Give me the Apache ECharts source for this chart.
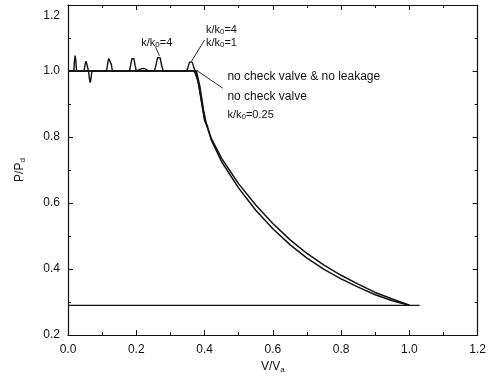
<!DOCTYPE html>
<html>
<head>
<meta charset="utf-8">
<script src="https://cdn.jsdelivr.net/npm/echarts@6/dist/echarts.min.js"></script>
<style>html,body{margin:0;padding:0;background:#fff}#c{width:489px;height:383px}</style>
</head>
<body>
<div id="c"></div>
<script>
// ---- data ----
var xTicks = [0, 0.2, 0.4, 0.6, 0.8, 1.0, 1.2];
var yTicks = [0.2, 0.4, 0.6, 0.8, 1.0, 1.2];

var baseLine = [[0, 0.29], [1.03, 0.29]];

var noCheckNoLeak = [[0, 1.0], [0.372, 1.0], [0.383, 0.96], [0.395, 0.885], [0.402, 0.848],
  [0.42, 0.795], [0.45, 0.735], [0.5, 0.658], [0.55, 0.594], [0.6, 0.538], [0.65, 0.489],
  [0.7, 0.447], [0.75, 0.412], [0.8, 0.381], [0.85, 0.354], [0.9, 0.329], [0.95, 0.309], [1.0, 0.29]];

var noCheck = [[0, 1.0], [0.376, 1.0], [0.386, 0.955], [0.398, 0.875], [0.405, 0.842],
  [0.42, 0.79], [0.45, 0.725], [0.5, 0.645], [0.55, 0.578], [0.6, 0.522], [0.65, 0.474],
  [0.7, 0.433], [0.75, 0.399], [0.8, 0.370], [0.85, 0.345], [0.9, 0.322], [0.95, 0.304], [1.0, 0.29]];

var k025 = [[0.37, 1.0], [0.38, 0.975], [0.392, 0.9], [0.4, 0.85], [0.41, 0.83]];

var k4 = [[0, 1.0], [0.017, 1.0], [0.019, 1.03], [0.021, 1.047], [0.023, 1.03], [0.025, 1.0],
  [0.047, 1.0], [0.05, 1.02], [0.053, 1.03], [0.057, 1.027], [0.06, 1.0], [0.063, 0.975],
  [0.065, 0.965], [0.067, 0.975], [0.07, 1.0],
  [0.113, 1.0], [0.116, 1.02], [0.119, 1.038], [0.121, 1.041], [0.124, 1.038], [0.127, 1.02], [0.13, 1.0],
  [0.18, 1.0], [0.184, 1.02], [0.187, 1.037], [0.19, 1.041], [0.193, 1.037], [0.196, 1.02], [0.2, 1.0],
  [0.253, 1.0], [0.258, 1.018], [0.262, 1.04], [0.266, 1.046], [0.27, 1.04], [0.274, 1.018], [0.279, 1.0],
  [0.348, 1.0], [0.352, 1.013], [0.356, 1.027], [0.36, 1.031], [0.364, 1.027], [0.368, 1.013], [0.372, 1.0],
  [0.38, 1.0]];

var k1 = [[0.2, 1.0], [0.21, 1.005], [0.22, 1.008], [0.228, 1.006], [0.236, 1.0]];

// leader lines (data coordinates)
var leaderK4 = [[0.256, 1.074], [0.268, 1.046]];
var leaderK41 = [[0.40, 1.094], [0.361, 1.028]];
var leaderNCV = [[0.453, 0.948], [0.381, 0.999]];

var chart = echarts.init(document.getElementById('c'), null, {renderer: 'canvas'});
var FONT = '"Liberation Sans", Arial, Helvetica, sans-serif';
var black = '#111';

function lineSeries(data, w) {
  return {type: 'line', data: data, showSymbol: false, symbol: 'none', silent: true,
    lineStyle: {color: black, width: w}, animation: false, z: 3};
}

var axisCommon = {
  min: 0, max: 1.2, interval: 0.2,
  axisLine: {show: true, onZero: false, lineStyle: {color: black, width: 1.2}},
  axisTick: {show: true, inside: true, length: 5, lineStyle: {color: black, width: 1}},
  minorTick: {show: true, splitNumber: 2, length: 3, lineStyle: {color: black, width: 1}},
  splitLine: {show: false}
};

var option = {
  backgroundColor: '#fff',
  animation: false,
  grid: {left: 68, right: 5, top: 5, bottom: 48},
  xAxis: [
    Object.assign({}, axisCommon, {
      type: 'value', position: 'bottom',
      axisLabel: {color: black, fontFamily: FONT, fontSize: 12, margin: 9,
        formatter: function (v) { return v.toFixed(1); }},
      name: '{a|V/V}{s|a}', nameLocation: 'middle', nameGap: 25,
      nameTextStyle: {rich: {
        a: {fontFamily: FONT, fontSize: 12, color: black},
        s: {fontFamily: FONT, fontSize: 8, color: black, verticalAlign: 'bottom', padding: [6, 0, 0, 0]}
      }}
    }),
    Object.assign({}, axisCommon, {
      type: 'value', position: 'top', axisLabel: {show: false}
    })
  ],
  yAxis: [
    Object.assign({}, axisCommon, {
      type: 'value', position: 'left', min: 0.2, max: 1.2, interval: 0.2,
      axisLabel: {color: black, fontFamily: FONT, fontSize: 12, margin: 8,
        formatter: function (v) {
          var s = v.toFixed(1);
          return Math.abs(v - 1.2) < 1e-6 ? '{t|' + s + '}' : s;
        },
        rich: {t: {fontFamily: FONT, fontSize: 12, color: black, padding: [22, 0, 0, 0]}}
      },
      name: '{a|P/P}{s|d}', nameLocation: 'middle', nameGap: 41, nameRotate: 90,
      nameTextStyle: {rich: {
        a: {fontFamily: FONT, fontSize: 12, color: black},
        s: {fontFamily: FONT, fontSize: 8, color: black, verticalAlign: 'bottom', padding: [6, 0, 0, 0]}
      }}
    }),
    Object.assign({}, axisCommon, {
      type: 'value', position: 'right', min: 0.2, max: 1.2, interval: 0.2,
      axisLabel: {show: false}
    })
  ],
  series: [
    lineSeries(baseLine, 1.3),
    lineSeries(noCheckNoLeak, 1.5),
    lineSeries(noCheck, 1.5),
    lineSeries(k025, 1.5),
    lineSeries(k4, 1.4),
    lineSeries(k1, 1.2),
    lineSeries(leaderK4, 0.9),
    lineSeries(leaderK41, 0.9),
    lineSeries(leaderNCV, 0.9)
  ]
};
chart.setOption(option);

// annotations placed at data coordinates
var notes = [
  {x: 0.26, y: 1.085, size: 11, align: 'center', parts: [['k/k', 0], ['0', 1], ['=4', 0]]},
  {x: 0.404, y: 1.124, size: 11, align: 'left', parts: [['k/k', 0], ['0', 1], ['=4', 0]]},
  {x: 0.404, y: 1.085, size: 11, align: 'left', parts: [['k/k', 0], ['0', 1], ['=1', 0]]},
  {x: 0.467, y: 0.982, size: 12, align: 'left', parts: [['no check valve & no leakage', 0]]},
  {x: 0.467, y: 0.921, size: 12, align: 'left', parts: [['no check valve', 0]]},
  {x: 0.467, y: 0.866, size: 11, align: 'left', parts: [['k/k', 0], ['0', 1], ['=0.25', 0]]}
];
var graphics = notes.map(function (n) {
  var p = chart.convertToPixel({gridIndex: 0}, [n.x, n.y]);
  var txt = n.parts.map(function (q) { return (q[1] ? '{s|' : '{a|') + q[0] + '}'; }).join('');
  return {type: 'text', x: p[0], y: p[1], silent: true,
    style: {text: txt, align: n.align, verticalAlign: 'middle',
      rich: {
        a: {fontFamily: FONT, fontSize: n.size, fill: black},
        s: {fontFamily: FONT, fontSize: 8, fill: black, padding: [3, 0, 0, 0]}
      }}};
});
chart.setOption({graphic: graphics});
</script>
</body>
</html>
